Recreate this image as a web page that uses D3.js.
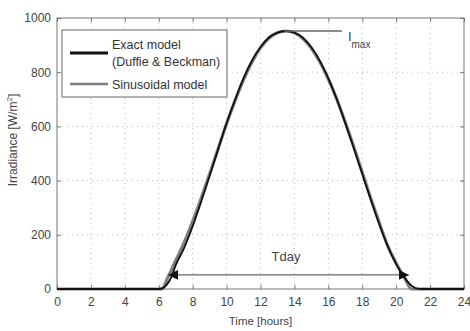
<!DOCTYPE html>
<html>
<head>
<meta charset="utf-8">
<script src="https://cdn.jsdelivr.net/npm/d3@7"></script>
<style>
  body { margin: 0; background: #fff; }
  svg { display: block; font-family: "Liberation Sans", Arial, sans-serif; }
</style>
</head>
<body>
<div id="chart"></div>
<script>
// ---- data ----
const xTicks = [0, 2, 4, 6, 8, 10, 12, 14, 16, 18, 20, 22, 24];
const yTicks = [0, 200, 400, 600, 800, 1000];

// exact model (Duffie & Beckman): [hour, W/m2]
const exactHours = [0, 6.0, 6.25, 6.5, 6.75, 7.0, 7.5, 8.0, 8.5, 9.0, 9.5, 10.0, 10.5, 11.0, 11.5, 12.0, 12.5, 13.0, 13.5, 14.0, 14.5, 15.0, 15.5, 16.0, 16.5, 17.0, 17.5, 18.0, 18.5, 19.0, 19.5, 20.0, 20.5, 20.75, 21.0, 21.25, 21.5, 24];
const exactValues = [0, 0, 4, 18, 45, 88, 152, 232, 322, 417, 515, 612, 698, 778, 843, 893, 928, 946, 952, 946, 927, 892, 842, 777, 700, 612, 520, 425, 330, 240, 158, 92, 42, 22, 8, 1, 0, 0];

// sinusoidal model
const sineHours = [0, 6.2, 6.5, 7.0, 7.5, 8.0, 8.5, 9.0, 9.5, 10.0, 10.5, 11.0, 11.5, 12.0, 12.5, 13.0, 13.5, 14.0, 14.5, 15.0, 15.5, 16.0, 16.5, 17.0, 17.5, 18.0, 18.5, 19.0, 19.5, 20.0, 20.5, 20.9, 24];
const sineValues = [0, 0, 38, 105, 172, 250, 335, 425, 518, 610, 695, 772, 838, 890, 926, 946, 952, 945, 924, 888, 838, 775, 700, 615, 525, 430, 335, 245, 160, 95, 40, 0, 0];

const iMax = 952;
const iMaxHours = [13.4, 16.8];
const tDay = { from: 6.55, to: 20.75, level: 52, labelHour: 13.5 };

// ---- layout ----
const width = 470, height = 331;
const margin = { top: 18, right: 6, bottom: 42, left: 57 };
const plotW = width - margin.left - margin.right;
const plotH = height - margin.top - margin.bottom;

const x = d3.scaleLinear().domain([0, 24]).range([0, plotW]);
const y = d3.scaleLinear().domain([0, 1000]).range([plotH, 0]);

const svg = d3.select("#chart").append("svg")
  .attr("width", width).attr("height", height);

const defs = svg.append("defs");
defs.append("marker")
  .attr("id", "arrow")
  .attr("viewBox", "0 0 10 10")
  .attr("refX", 10).attr("refY", 5)
  .attr("markerWidth", 10).attr("markerHeight", 10)
  .attr("markerUnits", "userSpaceOnUse")
  .attr("orient", "auto-start-reverse")
  .append("path").attr("d", "M0,0 L10,5 L0,10 z").attr("fill", "#111");

const g = svg.append("g").attr("transform", `translate(${margin.left},${margin.top})`);

// grid (dotted)
g.append("g").selectAll("line").data(xTicks.slice(1, -1)).join("line")
  .attr("x1", d => x(d)).attr("x2", d => x(d)).attr("y1", 0).attr("y2", plotH)
  .attr("stroke", "#bbb").attr("stroke-width", 1).attr("stroke-dasharray", "1,4");
g.append("g").selectAll("line").data(yTicks.slice(1, -1)).join("line")
  .attr("x1", 0).attr("x2", plotW).attr("y1", d => y(d)).attr("y2", d => y(d))
  .attr("stroke", "#bbb").attr("stroke-width", 1).attr("stroke-dasharray", "1,4");

// axes: inward ticks on all four sides, matlab style
const axisColor = "#777";
const fmt = d3.format("d");
function styleAxis(sel) {
  sel.select(".domain").remove();
  sel.selectAll(".tick line").attr("stroke", axisColor);
  sel.selectAll(".tick text").attr("fill", "#444").attr("font-size", 12)
    .attr("font-family", "Liberation Sans, Arial, sans-serif");
}
g.append("g").attr("transform", `translate(0,${plotH})`)
  .call(d3.axisBottom(x).tickValues(xTicks).tickFormat(fmt).tickSizeInner(-4).tickSizeOuter(0).tickPadding(8))
  .call(styleAxis);
g.append("g")
  .call(d3.axisTop(x).tickValues(xTicks).tickSizeInner(-4).tickSizeOuter(0).tickFormat(""))
  .call(styleAxis);
g.append("g")
  .call(d3.axisLeft(y).tickValues(yTicks).tickFormat(fmt).tickSizeInner(-4).tickSizeOuter(0).tickPadding(6))
  .call(styleAxis);
g.append("g").attr("transform", `translate(${plotW},0)`)
  .call(d3.axisRight(y).tickValues(yTicks).tickSizeInner(-4).tickSizeOuter(0).tickFormat(""))
  .call(styleAxis);

g.append("rect").attr("width", plotW).attr("height", plotH)
  .attr("fill", "none").attr("stroke", axisColor).attr("stroke-width", 1);

// axis titles
g.append("text")
  .attr("x", x(12)).attr("y", plotH + 36)
  .attr("text-anchor", "middle").attr("font-size", 11.5).attr("fill", "#444")
  .text("Time [hours]");
const yl = svg.append("text")
  .attr("transform", `translate(17,140) rotate(-90)`)
  .attr("text-anchor", "middle").attr("font-size", 12).attr("fill", "#444");
yl.append("tspan").text("Irradiance [W/m");
yl.append("tspan").attr("font-size", 8).attr("dy", -5).text("2");
yl.append("tspan").attr("dy", 5).text("]");

// curves
const line = d3.line().x(d => x(d[0])).y(d => y(d[1])).curve(d3.curveMonotoneX);
g.append("path")
  .datum(sineHours.map((h, i) => [h, sineValues[i]]))
  .attr("d", line).attr("fill", "none")
  .attr("stroke", "#7f7f7f").attr("stroke-width", 3.2);
g.append("path")
  .datum(exactHours.map((h, i) => [h, exactValues[i]]))
  .attr("d", line).attr("fill", "none")
  .attr("stroke", "#111").attr("stroke-width", 1.8);

// Imax annotation
g.append("line")
  .attr("x1", x(iMaxHours[0])).attr("x2", x(iMaxHours[1]))
  .attr("y1", y(iMax)).attr("y2", y(iMax))
  .attr("stroke", "#666").attr("stroke-width", 1.3);
const im = g.append("text")
  .attr("x", x(iMaxHours[1]) + 6).attr("y", y(iMax) + 10)
  .attr("font-size", 13).attr("fill", "#444");
im.append("tspan").text("I");
im.append("tspan").attr("font-size", 10).attr("dy", 7).text("max");

// Tday arrow
g.append("line")
  .attr("x1", x(tDay.from)).attr("x2", x(tDay.to))
  .attr("y1", y(tDay.level)).attr("y2", y(tDay.level))
  .attr("stroke", "#666").attr("stroke-width", 1.3)
  .attr("marker-start", "url(#arrow)").attr("marker-end", "url(#arrow)");
g.append("text")
  .attr("x", x(tDay.labelHour)).attr("y", y(tDay.level) - 14)
  .attr("text-anchor", "middle").attr("font-size", 13).attr("fill", "#444")
  .text("Tday");

// legend
const lg = svg.append("g").attr("transform", "translate(62,30)");
lg.append("rect").attr("width", 165).attr("height", 67)
  .attr("fill", "#fff").attr("stroke", "#666").attr("stroke-width", 1);
lg.append("line").attr("x1", 8).attr("x2", 46).attr("y1", 23).attr("y2", 23)
  .attr("stroke", "#111").attr("stroke-width", 3);
lg.append("text").attr("x", 50).attr("y", 19).attr("font-size", 12.5).attr("fill", "#333")
  .text("Exact model");
lg.append("text").attr("x", 50).attr("y", 36).attr("font-size", 12.5).attr("fill", "#333")
  .text("(Duffie & Beckman)");
lg.append("line").attr("x1", 8).attr("x2", 46).attr("y1", 54).attr("y2", 54)
  .attr("stroke", "#7f7f7f").attr("stroke-width", 2.5);
lg.append("text").attr("x", 50).attr("y", 59).attr("font-size", 12.5).attr("fill", "#333")
  .text("Sinusoidal model");
</script>
</body>
</html>
